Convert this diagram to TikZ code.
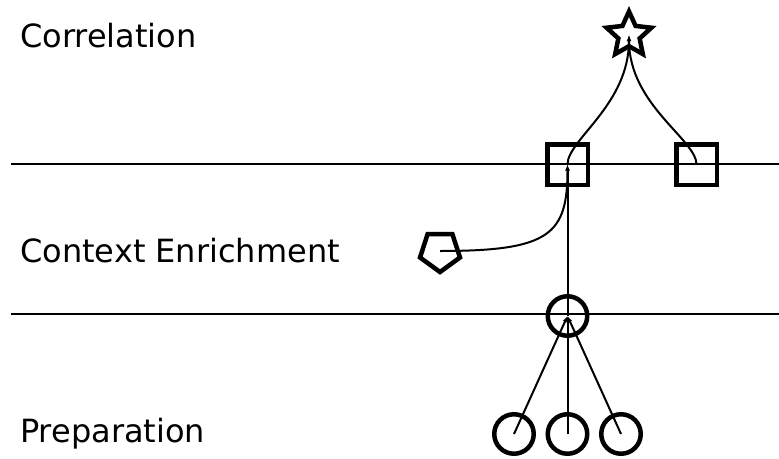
\documentclass[tikz,border=0pt]{standalone}
\usepackage{fontspec}
\setmainfont{DejaVu Sans}
\usetikzlibrary{shapes.geometric,arrows.meta}

\tikzset{
  layer/.style={line width=2pt},
  lanetitle/.style={anchor=base west, inner sep=0pt, font=\fontsize{32}{38}\selectfont},
  mark box/.style={draw, line width=4.5pt, rectangle, minimum size=40.5pt, inner sep=0pt},
  mark ring/.style={draw, line width=4.5pt, circle, minimum size=39.5pt, inner sep=0pt},
  mark penta/.style={draw, line width=4.5pt, regular polygon, regular polygon sides=5,
    shape border rotate=180, minimum size=42pt, inner sep=0pt},
  mark star/.style={draw, line width=4.5pt, star, star points=5, star point ratio=2.1,
    minimum size=47pt, inner sep=0pt},
  link/.style={line width=2pt, -{Latex[length=6pt,width=4.5pt]}},
}

\begin{document}
\begin{tikzpicture}[x=1pt, y=-1pt]
  \useasboundingbox (0,0) rectangle (779,458);

  % stage boundaries
  \coordinate (b1w) at (11,164);
  \coordinate (b1e) at (779,164);
  \coordinate (b2w) at (11,314);
  \coordinate (b2e) at (779,314);
  \draw[layer] (b1w) -- (b1e);
  \draw[layer] (b2w) -- (b2e);

  % stage titles
  \node[lanetitle] (tcorr) at (20,47) {Correlation};
  \node[lanetitle] (tctx)  at (20,262) {Context Enrichment};
  \node[lanetitle] (tprep) at (20,442) {Preparation};

  % marks
  \node[mark star]  (star) at (629,35) {};
  \node[mark box]   (sq1)  at (567.5,164.5) {};
  \node[mark box]   (sq2)  at (696.5,164.5) {};
  \node[mark penta] (pent) at (440,251) {};
  \node[mark ring]  (top)  at (567.5,316) {};
  \node[mark ring]  (c1)   at (514,434) {};
  \node[mark ring]  (c2)   at (567.5,434) {};
  \node[mark ring]  (c3)   at (621,434) {};

  % links
  \draw[link] (c1.center) -- (top.center);
  \draw[link] (c2.center) -- (top.center);
  \draw[link] (c3.center) -- (top.center);
  \draw[link] (top.center) -- (sq1.center);
  \draw[link] (pent.center) to[out=0, in=-90, out distance=110pt, in distance=70pt] (sq1.center);
  \draw[link] (sq1.center) to[out=90, in=-90, out distance=25pt, in distance=70pt] (star.center);
  \draw[link] (sq2.center) to[out=90, in=-90, out distance=25pt, in distance=70pt] (star.center);
\end{tikzpicture}
\end{document}
